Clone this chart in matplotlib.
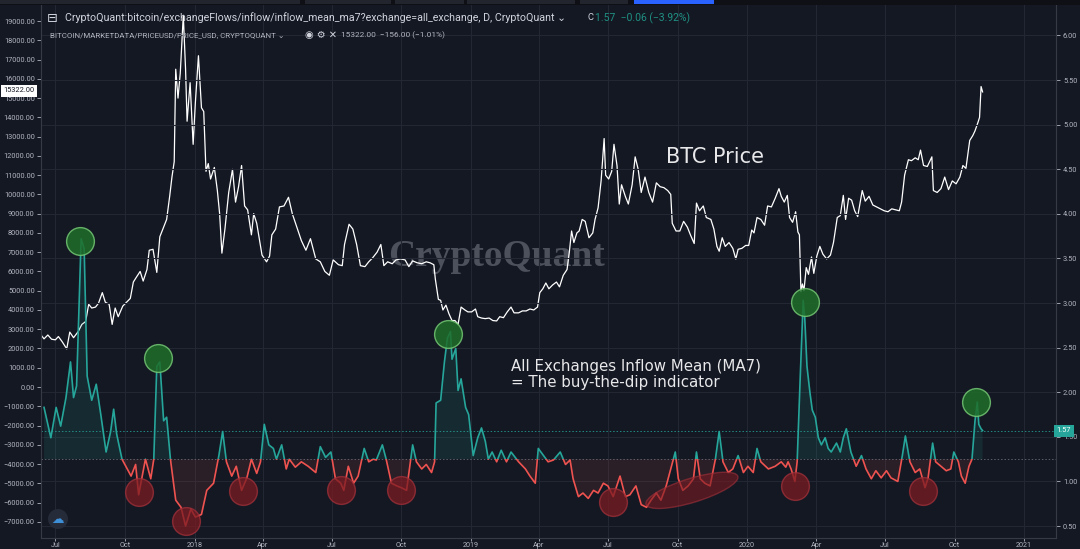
import numpy as np
import matplotlib
matplotlib.use('Agg')
import matplotlib.pyplot as plt
import matplotlib.dates as mdates
from matplotlib.patches import Rectangle, Ellipse, Circle
from matplotlib.transforms import blended_transform_factory, IdentityTransform

# ---- data ----
price_dates = [
    '2017-06-13', '2017-06-16', '2017-06-21', '2017-06-26', '2017-07-01', '2017-07-05', '2017-07-10',
    '2017-07-16', '2017-07-20', '2017-07-25', '2017-07-31', '2017-08-05', '2017-08-10', '2017-08-14',
    '2017-08-18', '2017-08-23', '2017-08-27', '2017-09-01', '2017-09-05', '2017-09-10', '2017-09-14',
    '2017-09-18', '2017-09-22', '2017-09-28', '2017-10-03', '2017-10-08', '2017-10-12', '2017-10-16',
    '2017-10-21', '2017-10-25', '2017-10-30', '2017-11-02', '2017-11-07', '2017-11-12', '2017-11-16',
    '2017-11-20', '2017-11-25', '2017-11-29', '2017-12-02', '2017-12-05', '2017-12-07', '2017-12-10',
    '2017-12-13', '2017-12-17', '2017-12-20', '2017-12-22', '2017-12-26', '2017-12-30', '2018-01-02',
    '2018-01-06', '2018-01-10', '2018-01-13', '2018-01-16', '2018-01-19', '2018-01-22', '2018-01-27',
    '2018-01-31', '2018-02-03', '2018-02-06', '2018-02-10', '2018-02-15', '2018-02-20', '2018-02-24',
    '2018-02-28', '2018-03-04', '2018-03-08', '2018-03-12', '2018-03-17', '2018-03-20', '2018-03-24',
    '2018-03-31', '2018-04-06', '2018-04-10', '2018-04-13', '2018-04-18', '2018-04-23', '2018-04-29',
    '2018-05-05', '2018-05-10', '2018-05-16', '2018-05-22', '2018-05-28', '2018-06-03', '2018-06-10',
    '2018-06-16', '2018-06-22', '2018-06-28', '2018-07-03', '2018-07-10', '2018-07-15', '2018-07-18',
    '2018-07-24', '2018-07-29', '2018-08-03', '2018-08-08', '2018-08-14', '2018-08-19', '2018-08-24',
    '2018-08-30', '2018-09-04', '2018-09-08', '2018-09-13', '2018-09-19', '2018-09-24', '2018-09-30',
    '2018-10-06', '2018-10-11', '2018-10-16', '2018-10-22', '2018-10-28', '2018-11-03', '2018-11-08',
    '2018-11-13', '2018-11-15', '2018-11-19', '2018-11-22', '2018-11-25', '2018-11-29', '2018-12-03',
    '2018-12-07', '2018-12-11', '2018-12-15', '2018-12-19', '2018-12-24', '2018-12-28', '2019-01-02',
    '2019-01-07', '2019-01-10', '2019-01-15', '2019-01-20', '2019-01-25', '2019-01-30', '2019-02-04',
    '2019-02-08', '2019-02-13', '2019-02-18', '2019-02-23', '2019-02-27', '2019-03-05', '2019-03-10',
    '2019-03-15', '2019-03-20', '2019-03-25', '2019-03-30', '2019-04-02', '2019-04-06', '2019-04-10',
    '2019-04-14', '2019-04-19', '2019-04-24', '2019-04-28', '2019-05-03', '2019-05-08', '2019-05-11',
    '2019-05-14', '2019-05-17', '2019-05-21', '2019-05-24', '2019-05-28', '2019-06-01', '2019-06-06',
    '2019-06-11', '2019-06-14', '2019-06-18', '2019-06-22', '2019-06-26', '2019-06-28', '2019-07-02',
    '2019-07-06', '2019-07-09', '2019-07-13', '2019-07-16', '2019-07-19', '2019-07-24', '2019-07-28',
    '2019-08-02', '2019-08-06', '2019-08-10', '2019-08-14', '2019-08-19', '2019-08-24', '2019-08-29',
    '2019-09-03', '2019-09-08', '2019-09-13', '2019-09-18', '2019-09-22', '2019-09-24', '2019-09-29',
    '2019-10-04', '2019-10-09', '2019-10-14', '2019-10-18', '2019-10-23', '2019-10-26', '2019-10-30',
    '2019-11-04', '2019-11-08', '2019-11-14', '2019-11-18', '2019-11-22', '2019-11-25', '2019-11-29',
    '2019-12-03', '2019-12-08', '2019-12-13', '2019-12-17', '2019-12-20', '2019-12-25', '2019-12-30',
    '2020-01-03', '2020-01-07', '2020-01-10', '2020-01-14', '2020-01-19', '2020-01-24', '2020-01-28',
    '2020-02-02', '2020-02-07', '2020-02-12', '2020-02-15', '2020-02-19', '2020-02-23', '2020-02-26',
    '2020-03-01', '2020-03-05', '2020-03-08', '2020-03-10', '2020-03-12', '2020-03-14', '2020-03-16',
    '2020-03-19', '2020-03-22', '2020-03-26', '2020-03-29', '2020-04-02', '2020-04-06', '2020-04-10',
    '2020-04-15', '2020-04-20', '2020-04-24', '2020-04-29', '2020-05-03', '2020-05-07', '2020-05-10',
    '2020-05-14', '2020-05-18', '2020-05-22', '2020-05-26', '2020-06-01', '2020-06-05', '2020-06-10',
    '2020-06-15', '2020-06-20', '2020-06-25', '2020-06-30', '2020-07-05', '2020-07-10', '2020-07-15',
    '2020-07-20', '2020-07-23', '2020-07-27', '2020-08-01', '2020-08-05', '2020-08-10', '2020-08-14',
    '2020-08-17', '2020-08-21', '2020-08-26', '2020-09-01', '2020-09-03', '2020-09-08', '2020-09-13',
    '2020-09-18', '2020-09-23', '2020-09-28', '2020-10-03', '2020-10-08', '2020-10-12', '2020-10-16',
    '2020-10-21', '2020-10-25', '2020-10-28', '2020-11-01', '2020-11-03', '2020-11-05', '2020-11-07']
price_usd = [
    2650, 2500, 2700, 2480, 2450, 2620, 2350,
    1980, 2850, 2560, 2870, 3250, 3400, 4300,
    4100, 4150, 4350, 4900, 4400, 4300, 3250,
    4100, 3650, 4200, 4400, 4600, 5450, 5700,
    6000, 5500, 6100, 7100, 7150, 5950, 7800,
    8200, 8700, 9900, 10900, 11700, 16500, 15000,
    16300, 19300, 16500, 13800, 15800, 12600, 14800,
    17200, 14500, 14300, 11200, 11600, 10800, 11400,
    10200, 9000, 6950, 8200, 10100, 11300, 9600,
    10400, 11500, 9400, 9200, 7900, 9000, 8500,
    6850, 6500, 6800, 7900, 8200, 9350, 9400,
    9850, 9000, 8300, 7600, 7100, 7700, 6650,
    6500, 6000, 5800, 6600, 6350, 6300, 7400,
    8450, 8200, 7400, 6300, 6250, 6500, 6700,
    7000, 7400, 6300, 6500, 6400, 6600, 6650,
    6600, 6250, 6550, 6450, 6400, 6500, 6450,
    6350, 5600, 4550, 4500, 4000, 4250, 3800,
    3450, 3450, 3250, 4150, 4000, 3900, 3900,
    4050, 3650, 3580, 3550, 3580, 3450, 3430,
    3650, 3600, 3900, 4150, 3850, 3850, 3950,
    3950, 4050, 4000, 4150, 4900, 5100, 5400,
    5100, 5300, 5450, 5200, 5800, 6100, 7000,
    8100, 7500, 8000, 8100, 8700, 8600, 7750,
    8000, 8700, 9300, 10700, 12900, 11000, 10800,
    11200, 12600, 11500, 9500, 10500, 9900, 9500,
    10500, 11950, 11300, 10100, 10900, 10100, 9600,
    10600, 10400, 10350, 10200, 10000, 8500, 8100,
    8100, 8600, 8300, 7900, 7450, 9550, 9150,
    9400, 8800, 8700, 8200, 7300, 7050, 7750,
    7300, 7500, 7200, 6650, 7150, 7200, 7350,
    7350, 8150, 8000, 8800, 8700, 8400, 9400,
    9350, 9800, 10300, 9900, 9600, 9950, 8800,
    8550, 9100, 8050, 7900, 4950, 5350, 5000,
    6200, 5850, 6750, 5900, 6800, 7300, 6900,
    6650, 6850, 7500, 8800, 8900, 9950, 8700,
    9800, 9700, 9150, 8850, 10200, 9650, 9900,
    9450, 9350, 9250, 9150, 9100, 9250, 9200,
    9150, 9600, 11000, 11800, 11750, 11900, 11800,
    12300, 11500, 11450, 11950, 10200, 10100, 10300,
    10900, 10250, 10700, 10550, 10900, 11500, 11350,
    12800, 13050, 13300, 13750, 14000, 15600, 15322]

inflow_dates = [
    '2017-06-16', '2017-06-25', '2017-07-02', '2017-07-08', '2017-07-15', '2017-07-21', '2017-07-25',
    '2017-07-29', '2017-08-04', '2017-08-08', '2017-08-12', '2017-08-18', '2017-08-24', '2017-08-30',
    '2017-09-06', '2017-09-12', '2017-09-16', '2017-09-20', '2017-09-27', '2017-10-09', '2017-10-15',
    '2017-10-19', '2017-10-28', '2017-11-04', '2017-11-08', '2017-11-12', '2017-11-16', '2017-11-21',
    '2017-11-25', '2017-11-30', '2017-12-07', '2017-12-14', '2017-12-20', '2017-12-27', '2018-01-02',
    '2018-01-10', '2018-01-17', '2018-01-26', '2018-02-02', '2018-02-07', '2018-02-12', '2018-02-19',
    '2018-02-25', '2018-03-04', '2018-03-11', '2018-03-17', '2018-03-24', '2018-03-29', '2018-04-03',
    '2018-04-09', '2018-04-15', '2018-04-19', '2018-04-26', '2018-05-02', '2018-05-06', '2018-05-14',
    '2018-05-22', '2018-05-31', '2018-06-10', '2018-06-16', '2018-06-23', '2018-06-30', '2018-07-06',
    '2018-07-13', '2018-07-17', '2018-07-23', '2018-07-30', '2018-08-05', '2018-08-13', '2018-08-19',
    '2018-08-25', '2018-08-29', '2018-09-06', '2018-09-11', '2018-09-18', '2018-09-25', '2018-10-01',
    '2018-10-08', '2018-10-16', '2018-10-21', '2018-10-28', '2018-11-03', '2018-11-10', '2018-11-14',
    '2018-11-16', '2018-11-22', '2018-11-27', '2018-12-01', '2018-12-05', '2018-12-07', '2018-12-12',
    '2018-12-15', '2018-12-19', '2018-12-25', '2018-12-29', '2019-01-04', '2019-01-10', '2019-01-15',
    '2019-01-20', '2019-01-24', '2019-01-29', '2019-02-04', '2019-02-10', '2019-02-17', '2019-02-23',
    '2019-03-05', '2019-03-14', '2019-03-20', '2019-03-27', '2019-03-31', '2019-04-07', '2019-04-13',
    '2019-04-20', '2019-04-29', '2019-05-06', '2019-05-12', '2019-05-16', '2019-05-23', '2019-05-29',
    '2019-06-05', '2019-06-12', '2019-06-18', '2019-06-25', '2019-07-01', '2019-07-08', '2019-07-17',
    '2019-07-24', '2019-07-30', '2019-08-07', '2019-08-14', '2019-08-21', '2019-08-27', '2019-09-03',
    '2019-09-09', '2019-09-16', '2019-09-23', '2019-09-28', '2019-10-02', '2019-10-08', '2019-10-15',
    '2019-10-22', '2019-10-26', '2019-10-31', '2019-11-06', '2019-11-13', '2019-11-20', '2019-11-25',
    '2019-11-30', '2019-12-07', '2019-12-13', '2019-12-20', '2019-12-27', '2020-01-02', '2020-01-09',
    '2020-01-14', '2020-01-19', '2020-01-29', '2020-02-07', '2020-02-15', '2020-02-21', '2020-02-24',
    '2020-02-28', '2020-03-04', '2020-03-07', '2020-03-11', '2020-03-15', '2020-03-17', '2020-03-20',
    '2020-03-24', '2020-03-27', '2020-03-31', '2020-04-04', '2020-04-08', '2020-04-13', '2020-04-17',
    '2020-04-21', '2020-04-28', '2020-05-03', '2020-05-07', '2020-05-11', '2020-05-17', '2020-05-24',
    '2020-05-31', '2020-06-06', '2020-06-13', '2020-06-19', '2020-06-26', '2020-07-03', '2020-07-09',
    '2020-07-18', '2020-07-24', '2020-07-28', '2020-08-03', '2020-08-10', '2020-08-16', '2020-08-23',
    '2020-08-27', '2020-09-02', '2020-09-06', '2020-09-13', '2020-09-20', '2020-09-26', '2020-09-30',
    '2020-10-06', '2020-10-10', '2020-10-15', '2020-10-20', '2020-10-24', '2020-10-28', '2020-10-31',
    '2020-11-02', '2020-11-05', '2020-11-07']
inflow_mean = [
    1.83, 1.49, 1.83, 1.62, 1.94, 2.34, 1.94,
    2.07, 3.72, 3.61, 2.18, 1.91, 2.09, 1.75,
    1.33, 1.56, 1.81, 1.53, 1.25, 1.06, 1.19,
    0.85, 1.25, 1.03, 1.25, 2.29, 2.34, 1.68,
    1.72, 1.25, 0.79, 0.71, 0.50, 0.69, 0.60,
    0.63, 0.90, 0.98, 1.29, 1.56, 1.22, 1.06,
    1.17, 0.90, 1.04, 1.25, 1.09, 1.22, 1.64,
    1.41, 1.37, 1.25, 1.41, 1.14, 1.25, 1.16,
    1.22, 1.17, 1.10, 1.39, 1.27, 1.33, 1.03,
    0.98, 0.90, 1.17, 0.98, 1.06, 1.37, 1.22,
    1.25, 1.24, 1.41, 1.25, 0.98, 0.95, 0.93,
    0.90, 1.41, 1.22, 1.14, 1.19, 1.10, 1.22,
    1.88, 1.91, 2.34, 2.61, 2.68, 2.37, 2.49,
    2.02, 2.15, 1.83, 1.75, 1.29, 1.49, 1.60,
    1.45, 1.25, 1.33, 1.22, 1.35, 1.22, 1.33,
    1.22, 1.14, 1.06, 0.98, 1.37, 1.29, 1.22,
    1.24, 1.33, 1.19, 1.24, 1.03, 0.83, 0.87,
    0.81, 0.90, 0.87, 0.98, 0.95, 0.83, 1.06,
    0.83, 0.85, 0.95, 0.74, 0.71, 0.79, 0.87,
    0.79, 0.95, 1.17, 1.33, 1.03, 0.90, 0.95,
    1.03, 1.33, 1.03, 0.98, 0.95, 1.25, 1.56,
    1.22, 1.10, 1.14, 1.29, 1.10, 1.17, 1.10,
    1.37, 1.22, 1.14, 1.17, 1.22, 1.16, 1.22,
    1.14, 1.00, 1.22, 2.15, 3.03, 2.84, 2.29,
    1.99, 1.80, 1.72, 1.49, 1.41, 1.49, 1.37,
    1.33, 1.43, 1.33, 1.49, 1.59, 1.33, 1.17,
    1.29, 1.14, 1.03, 1.12, 1.04, 1.12, 1.04,
    1.00, 1.29, 1.51, 1.22, 1.10, 1.14, 0.93,
    1.04, 1.43, 1.22, 1.17, 1.12, 1.14, 1.33,
    1.22, 1.06, 0.98, 1.17, 1.25, 1.68, 1.89,
    1.64, 1.59, 1.57]

# hand-drawn marks on the original screenshot
peak_dates = ['2017-08-03', '2017-11-13', '2018-12-02', '2020-03-17', '2020-10-29']
peak_values = [3.70, 2.38, 2.65, 3.01, 1.89]
dip_dates = ['2017-10-19', '2017-12-20', '2018-03-06', '2018-07-14', '2018-10-01',
             '2019-07-08', '2020-03-04', '2020-08-20']
dip_values = [0.88, 0.56, 0.89, 0.90, 0.90, 0.77, 0.95, 0.89]
dip_zone_date = '2019-10-20'
dip_zone_value = 0.90

price_ticks = list(range(-7000, 19001, 1000))
inflow_ticks = [0.5, 1.0, 1.5, 2.0, 2.5, 3.0, 3.5, 4.0, 4.5, 5.0, 5.5, 6.0]
month_ticks = ['2017-07-01', '2017-10-01', '2018-01-01', '2018-04-01', '2018-07-01', '2018-10-01',
               '2019-01-01', '2019-04-01', '2019-07-01', '2019-10-01', '2020-01-01', '2020-04-01',
               '2020-07-01', '2020-10-01', '2021-01-01']
month_labels = ['Jul', 'Oct', '2018', 'Apr', 'Jul', 'Oct', '2019', 'Apr', 'Jul', 'Oct',
                '2020', 'Apr', 'Jul', 'Oct', '2021']
last_price = 15322.00
last_inflow = 1.57
baseline = 1.25

# ---- style ----
BG = '#141823'
GRID = '#232734'
AXC = '#363a45'
LBL = '#b2b5be'
TEAL = '#26a69a'
RED = '#ef5350'
W, H = 1080, 549

def fx(x):
    return x / W

def fy(y):
    return 1 - y / H

def dn(dates):
    return mdates.date2num(np.array(dates, dtype='datetime64[D]'))

fig = plt.figure(figsize=(W / 100, H / 100), dpi=100, facecolor=BG)
L, R, T, B = 41, 1056, 5, 538
ax = fig.add_axes([fx(L), fy(B), (R - L) / W, (B - T) / H])
ax.set_facecolor(BG)
ax2 = ax.twinx()

ax.set_xlim(dn(['2017-06-12'])[0], dn(['2021-02-12'])[0])
ax.set_ylim(-7840, 19834)
ax2.set_ylim(0.366, 6.341)

# grid
ax.set_xticks(dn(month_ticks))
ax.set_xticklabels(month_labels)
ax.grid(axis='x', color=GRID, lw=0.8)
ax.set_axisbelow(True)
ax2.set_yticks(inflow_ticks)
ax2.set_yticklabels(['%.2f' % v for v in inflow_ticks])
ax2.grid(axis='y', color=GRID, lw=0.8)
ax2.set_axisbelow(True)
ax.set_yticks(price_ticks)
ax.set_yticklabels([('%.2f' % v).replace('-', '\u2212') for v in price_ticks])

for a in (ax, ax2):
    for s in a.spines.values():
        s.set_color(AXC)
        s.set_linewidth(0.8)
    a.spines['top'].set_visible(False)
ax.tick_params(axis='y', colors=LBL, labelsize=5.3, length=3, width=0.6, pad=1.5)
ax.tick_params(axis='x', colors=LBL, labelsize=5.2, length=2, width=0.6, pad=0.8)
ax2.tick_params(axis='y', colors=LBL, labelsize=5.3, length=3, width=0.6, pad=2)
for t in ax.get_xticklabels() + ax.get_yticklabels() + ax2.get_yticklabels():
    t.set_fontfamily('Roboto')

# watermark
ax.text(fx(497), fy(257), 'CryptoQuant', transform=fig.transFigure, ha='center', va='center',
        fontsize=27, fontweight='bold', family='Liberation Serif', color='#4d515c', zorder=0.5)

# BTC price
ax.plot(dn(price_dates), price_usd, color='white', lw=0.9, zorder=2)

# inflow mean baseline style
xi = dn(inflow_dates)
yi = np.array(inflow_mean)
blend = blended_transform_factory(ax2.transAxes, ax2.transData)
upper = Rectangle((0, baseline), 1, 10, transform=blend)
lower = Rectangle((0, -10), 1, 10 + baseline, transform=blend)
ax2.fill_between(xi, yi, baseline, where=yi >= baseline, interpolate=True, color=TEAL, alpha=0.13, lw=0)
ax2.fill_between(xi, yi, baseline, where=yi <= baseline, interpolate=True, color=RED, alpha=0.10, lw=0)
l1, = ax2.plot(xi, yi, color=TEAL, lw=1.2, zorder=3)
l1.set_clip_path(upper)
l2, = ax2.plot(xi, yi, color=RED, lw=1.2, zorder=3)
l2.set_clip_path(lower)
ax2.axhline(baseline, color='#5d606b', lw=0.7, ls=(0, (1.5, 2)), zorder=1)
ax2.axhline(last_inflow, color=TEAL, lw=0.7, ls=(0, (1.5, 2)), alpha=0.8, zorder=1)

# circles drawn on the screenshot
ax2.scatter(dn(peak_dates), peak_values, s=400, facecolor='#1f6e2a', edgecolor='#74c774',
            lw=1.0, alpha=0.85, zorder=5)
ax2.scatter(dn(dip_dates), dip_values, s=400, facecolor='#7a1b22', edgecolor='#a3313a',
            lw=1.0, alpha=0.75, zorder=5)
cx, cy = ax2.transData.transform((dn([dip_zone_date])[0], dip_zone_value))
fig.add_artist(Ellipse((cx, cy), 96, 24, angle=17, transform=IdentityTransform(),
                       facecolor='#7a1b22', edgecolor='#a3313a', lw=1.0, alpha=0.6, zorder=5))

# annotations
fig.text(fx(666), fy(157), 'BTC Price', fontsize=15, color='#e8e8ea', va='center', ha='left')
fig.text(fx(511), fy(366), 'All Exchanges Inflow Mean (MA7)', fontsize=10.8, color='#e8e8ea',
         va='center', ha='left')
fig.text(fx(511), fy(382), '= The buy-the-dip indicator', fontsize=10.8, color='#e8e8ea',
         va='center', ha='left')

# last value labels
fig.text(fx(19), fy(91), '%.2f' % last_price, fontsize=5.3, family='Roboto', color='#131722',
         ha='center', va='center', bbox=dict(boxstyle='square,pad=0.35', fc='white', ec='none'))
fig.text(fx(1064), fy(431), '%.2f' % last_inflow, fontsize=5.3, family='Roboto', color='white',
         ha='center', va='center', bbox=dict(boxstyle='square,pad=0.35', fc=TEAL, ec='none'))

# header legend
renderer = fig.canvas.get_renderer()

def fit(x0, x1, y, s, size, color, family=('Roboto', 'DejaVu Sans')):
    t = fig.text(fx(x0), fy(y), s, fontsize=size, color=color, va='center', ha='left',
                 family=list(family))
    w = t.get_window_extent(renderer).width
    t.set_fontsize(size * (x1 - x0) / w)
    return t

fit(47, 58, 18, '\u229f', 8, '#d1d4dc', ('DejaVu Sans',))
fit(65, 566, 18, 'CryptoQuant:bitcoin/exchangeFlows/inflow/inflow_mean_ma7?exchange=all_exchange, D, CryptoQuant \u2304',
    8, '#d1d4dc')
fit(588, 594, 18, 'C', 8, '#d1d4dc')
fit(595, 690, 18, '1.57  \u22120.06 (\u22123.92%)', 8, '#1f9083')
fit(50, 285, 35, 'BITCOIN/MARKETDATA/PRICEUSD/PRICE_USD, CRYPTOQUANT \u2304', 6.5, '#b2b5be')
fit(305, 337, 35, '\u25c9 \u2699 \u2715', 6.5, '#d1d4dc', ('DejaVu Sans',))
fit(341, 444, 35, '15322.00  \u2212156.00 (\u22121.01%)', 6.5, '#b2b5be')

# top toolbar strip and small icon
fig.add_artist(Rectangle((0, fy(5)), 1, 1 - fy(5), transform=fig.transFigure, fc='#0e1016', ec='none'))
for a0, a1, c in [(0, 300, '#22252e'), (305, 391, '#22252e'), (395, 464, '#22252e'),
                  (467, 575, '#22252e'), (580, 628, '#22252e'), (634, 714, '#2962ff')]:
    fig.add_artist(Rectangle((fx(a0), fy(3.5)), (a1 - a0) / W, 3.5 / H, transform=fig.transFigure,
                             fc=c, ec='none'))
fig.add_artist(Circle((58, H - 519), 10, transform=IdentityTransform(), fc='#262b3a', ec='none', zorder=6))
fig.text(fx(58), fy(519), '\u2601', fontsize=9, color='#3d8fd8', ha='center', va='center',
         family='DejaVu Sans', zorder=7)

fig.savefig('out.png', dpi=100, facecolor=BG)
